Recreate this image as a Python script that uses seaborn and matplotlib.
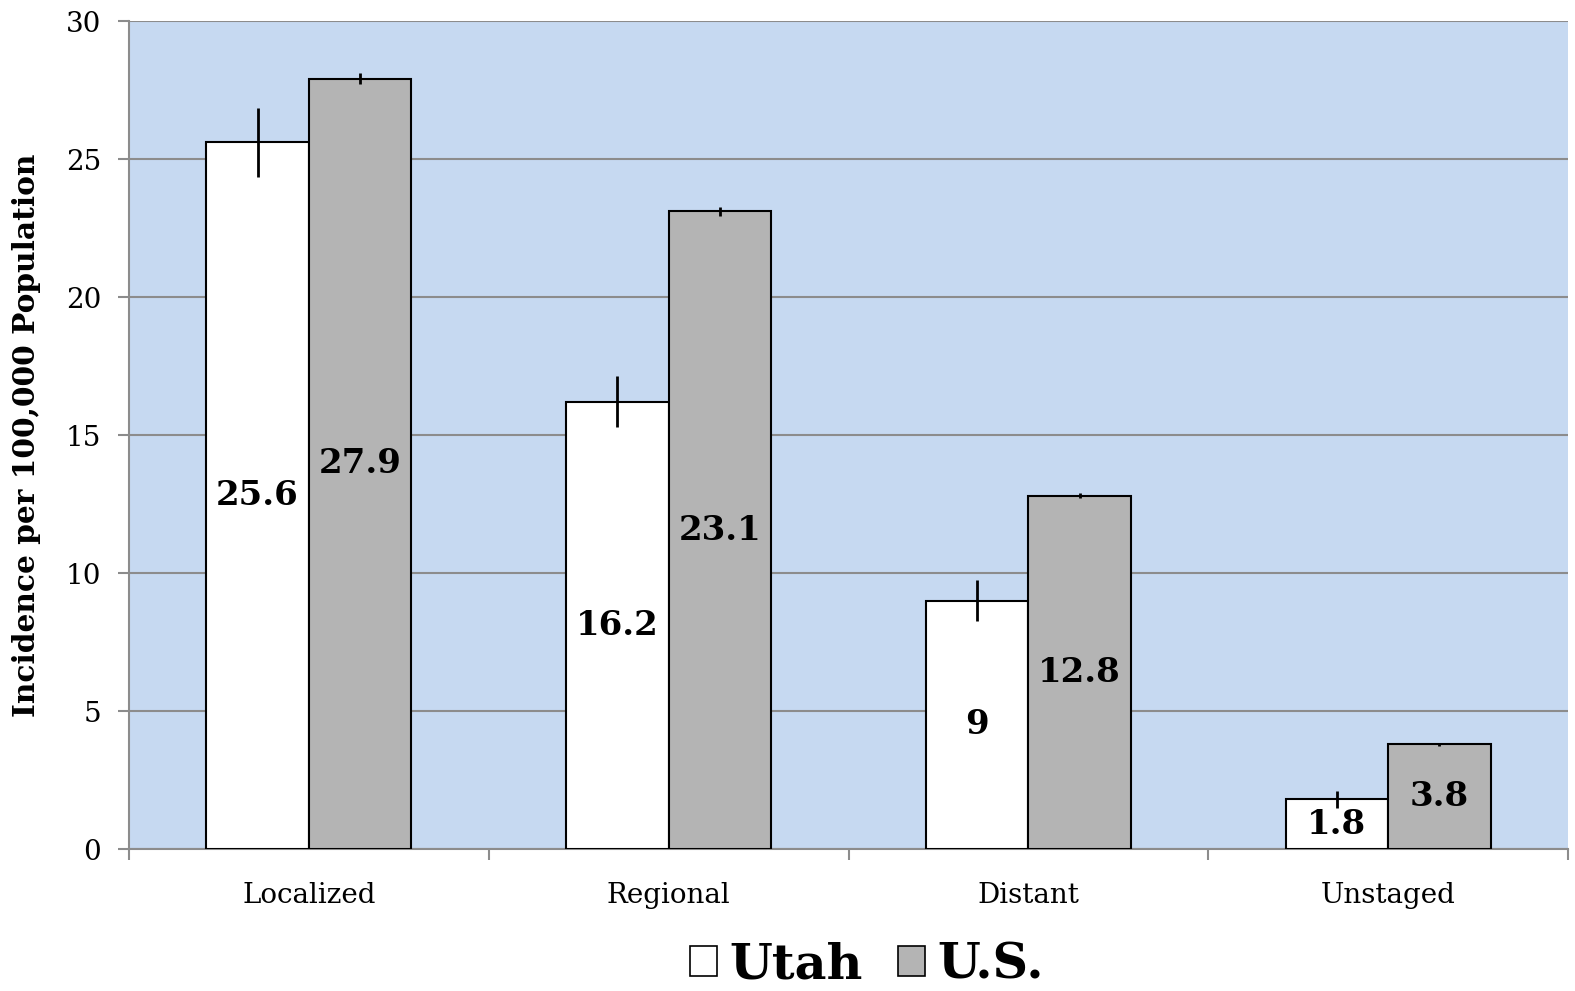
import numpy as np
import pandas as pd
import seaborn as sns
import matplotlib
import matplotlib.pyplot as plt
from matplotlib.patches import Patch
matplotlib.use('Agg')

# chart values
stages = ['Localized', 'Regional', 'Distant', 'Unstaged']
regions = ['Utah', 'U.S.']
utah_rate = [25.6, 16.2, 9.0, 1.8]
us_rate = [27.9, 23.1, 12.8, 3.8]
utah_err = [1.25, 0.92, 0.75, 0.3]
us_err = [0.2, 0.15, 0.1, 0.05]

df = pd.DataFrame({
    'stage': stages * 2,
    'region': [regions[0]] * 4 + [regions[1]] * 4,
    'rate': utah_rate + us_rate,
})
errs = {'Utah': utah_err, 'U.S.': us_err}

sns.set_style('ticks')
plt.rcParams['font.family'] = ['DejaVu Serif']
plt.rcParams['text.color'] = 'black'
plt.rcParams['axes.labelcolor'] = 'black'
plt.rcParams['xtick.labelcolor'] = 'black'
plt.rcParams['ytick.labelcolor'] = 'black'

bg = '#C6D9F1'
grey_bar = '#B4B4B4'
line_grey = '#8C8C8C'

fig = plt.figure(figsize=(15.75, 9.91), dpi=100)
ax = fig.add_axes([129 / 1575, 1 - 849 / 991, 1439 / 1575, 828 / 991])
ax.set_facecolor(bg)

sns.barplot(data=df, x='stage', y='rate', hue='region', order=stages,
            hue_order=regions, palette=['white', grey_bar], edgecolor='black',
            linewidth=1.5, width=0.57, gap=0, errorbar=None, ax=ax,
            legend=False, zorder=3)

for cont, reg in zip(ax.containers, regions):
    xs = [p.get_x() + p.get_width() / 2 for p in cont]
    ys = [p.get_height() for p in cont]
    ax.errorbar(xs, ys, yerr=errs[reg], fmt='none', ecolor='black',
                elinewidth=2, capsize=0, zorder=4)
    ax.bar_label(cont, labels=['%g' % v for v in cont.datavalues],
                 label_type='center', fontsize=24.5, fontweight='heavy',
                 color='black', zorder=5)

ax.set_ylim(0, 30)
ax.set_xlim(-0.5, 3.5)
ax.set_yticks(range(0, 31, 5))
ax.yaxis.grid(True, color=line_grey, linewidth=1.5)
ax.set_axisbelow(True)

# category boundaries carry the tick marks, labels sit in between
ax.set_xticks(np.arange(-0.5, 4, 1))
ax.set_xticklabels([''] * 5)
ax.set_xticks(range(4), minor=True)
ax.set_xticklabels(stages, minor=True, fontsize=20)
ax.tick_params(axis='x', which='minor', length=0, pad=24)
ax.tick_params(axis='x', which='major', length=8, width=1.5, color=line_grey)
ax.tick_params(axis='y', length=8, width=1.5, color=line_grey,
               labelsize=20, pad=12)

for s in ['top', 'right']:
    ax.spines[s].set_visible(False)
for s in ['left', 'bottom']:
    ax.spines[s].set_color(line_grey)
    ax.spines[s].set_linewidth(1.5)

ax.set_xlabel('')
ax.set_ylabel('Incidence per 100,000 Population', fontsize=21.3,
              fontweight='bold')
ax.yaxis.set_label_coords(-0.061, 0.5)

handles = [Patch(facecolor='white', edgecolor='black', linewidth=1.2),
           Patch(facecolor=grey_bar, edgecolor='black', linewidth=1.2)]
leg = fig.legend(handles, regions, loc='center',
                 bbox_to_anchor=(867 / 1575, 1 - 965 / 991), ncol=2,
                 frameon=False, handlelength=0.55, handleheight=0.55,
                 handletextpad=0.25, columnspacing=0.7,
                 prop={'size': 35.5, 'weight': 'bold'})

fig.savefig('out.png', dpi=100)
